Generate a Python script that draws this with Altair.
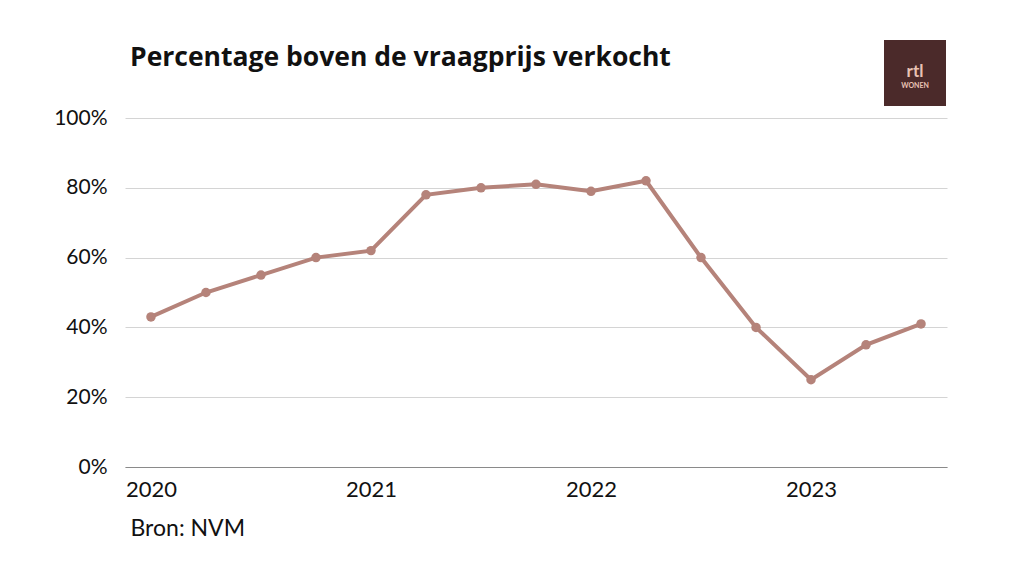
import altair as alt
import pandas as pd

quarters = [2020.0, 2020.25, 2020.5, 2020.75, 2021.0, 2021.25, 2021.5, 2021.75,
            2022.0, 2022.25, 2022.5, 2022.75, 2023.0, 2023.25, 2023.5]
values = [43, 50, 55, 60, 62, 78, 80, 81, 79, 82, 60, 40, 25, 35, 41]
year_ticks = [2020, 2021, 2022, 2023]
pct_ticks = [0, 20, 40, 60, 80, 100]
title_text = "Percentage boven de vraagprijs verkocht"

df = pd.DataFrame({"t": quarters, "v": values})

FONT = "Lato"
COLOR = "#b5837a"

x = alt.X("t:Q", scale=alt.Scale(domain=[2019.882, 2023.618], nice=False, zero=False),
          axis=alt.Axis(values=year_ticks, format="d", grid=False, ticks=False,
                        domainColor="#8a8a8a", domainWidth=1, labelFont=FONT,
                        labelFontSize=22, labelColor="#111", labelPadding=12,
                        title="Bron: NVM", titleFont=FONT, titleFontSize=23,
                        titleFontWeight="normal", titleColor="#111",
                        titleAnchor="start", titleAlign="left", titleBaseline="top",
                        titleX=5, titleY=50))
y = alt.Y("v:Q", scale=alt.Scale(domain=[0, 100], nice=False),
          axis=alt.Axis(values=pct_ticks, labelExpr="datum.value + '%'", grid=True,
                        gridColor="#d4d4d4", gridWidth=1, domain=False, ticks=False,
                        labelFont=FONT, labelFontSize=21, labelColor="#111",
                        labelPadding=18, title=None))

line = alt.Chart(df).mark_line(color=COLOR, strokeWidth=4).encode(x=x, y=y)
pts = alt.Chart(df).mark_point(filled=True, color=COLOR, size=90, opacity=1).encode(x=x, y=y)

one = df.head(1)
title = alt.Chart(one).mark_text(text=title_text, font="Open Sans", fontSize=26.5,
                                 fontWeight="bold", color="#111", align="left",
                                 baseline="alphabetic").encode(
    x=alt.value(5), y=alt.value(-52))
logo_bg = alt.Chart(one).mark_rect(color="#4b2a2a").encode(
    x=alt.value(759), x2=alt.value(821), y=alt.value(-78), y2=alt.value(-12))
logo_t1 = alt.Chart(one).mark_text(text="rtl", color="#e9c2b4", font=FONT,
                                   fontSize=17, fontWeight="bold").encode(
    x=alt.value(790), y=alt.value(-46))
logo_t2 = alt.Chart(one).mark_text(text="WONEN", color="#e9c2b4", font=FONT,
                                   fontSize=7, fontWeight="bold").encode(
    x=alt.value(790), y=alt.value(-32))

chart = alt.layer(line, pts, title, logo_bg, logo_t1, logo_t2).properties(
    width=822, height=349,
    autosize=alt.AutoSizeParams(type="none"),
    padding={"left": 117, "top": 110, "right": 60, "bottom": 95},
).configure(background="white").configure_view(strokeWidth=0)

chart.save("out.html", embed_options={"renderer": "svg", "actions": False})
